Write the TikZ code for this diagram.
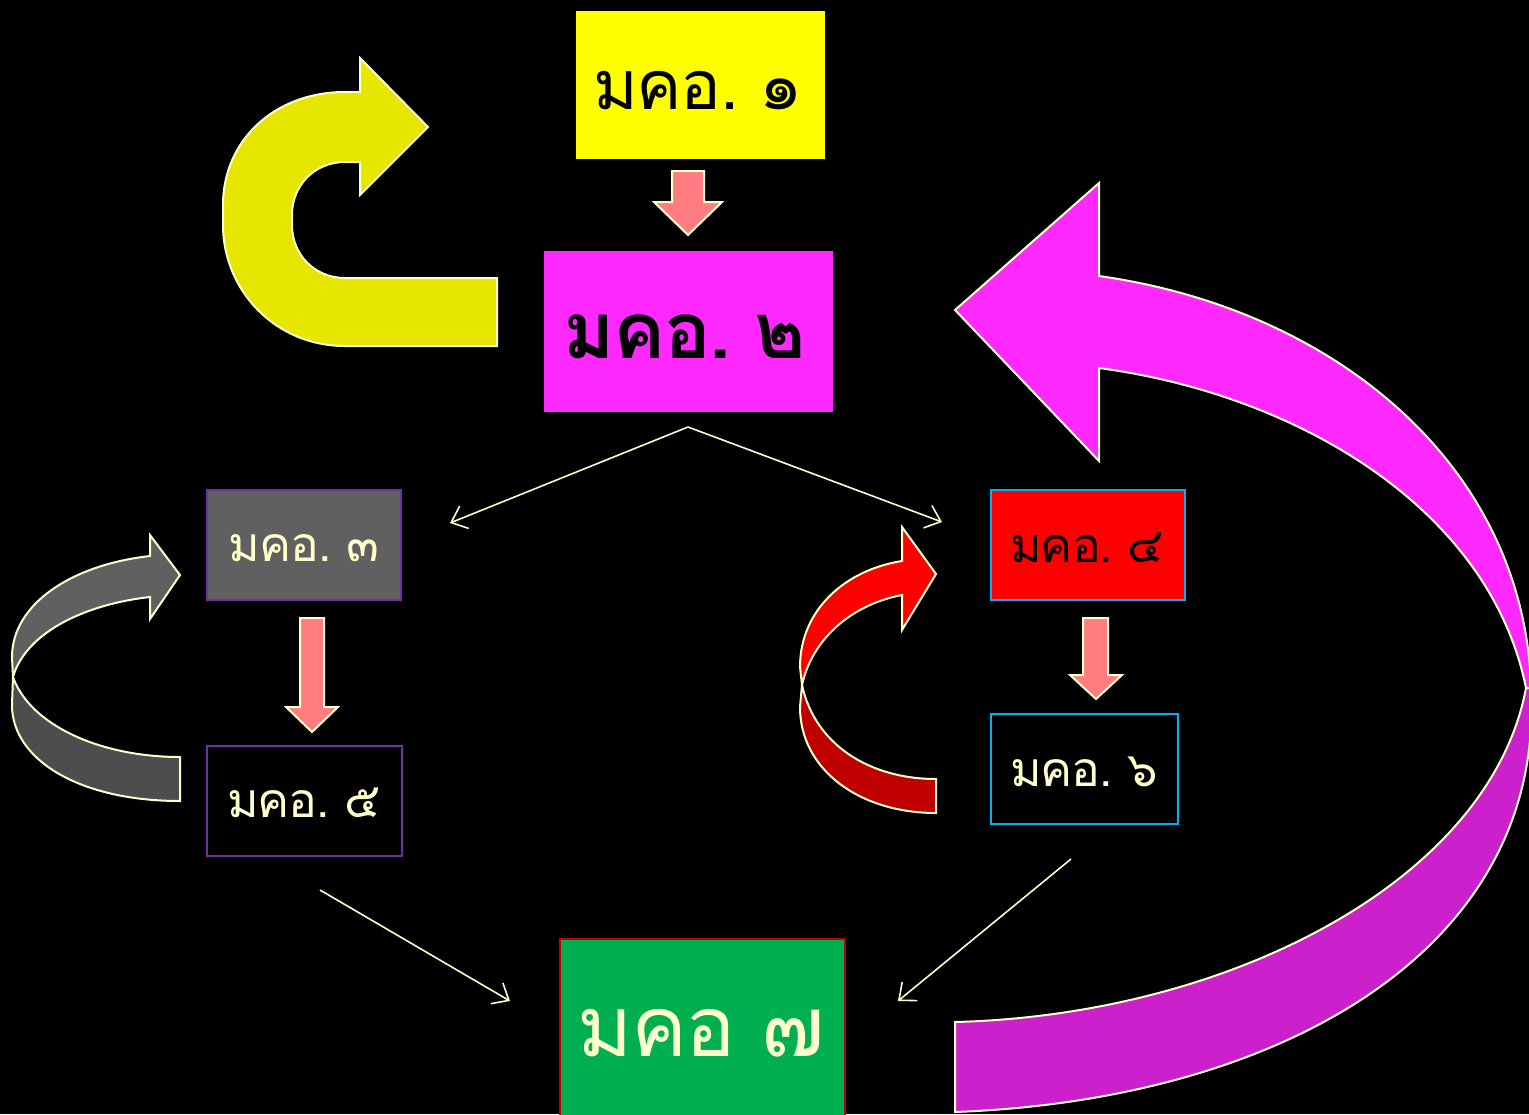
\documentclass[tikz,border=0pt]{standalone}
\usepackage{fontspec}
\newfontfamily\thaifont[Script=Thai, LetterSpace=-2]{Loma}
\usetikzlibrary{arrows.meta}
\definecolor{cream}{HTML}{FFFFCC}
\definecolor{yel}{HTML}{FFFF00}
\definecolor{yelarr}{HTML}{E6E600}
\definecolor{mag}{HTML}{FF28FF}
\definecolor{magdark}{HTML}{CC20CC}
\definecolor{grayA}{HTML}{606060}
\definecolor{grayB}{HTML}{4D4D4D}
\definecolor{purp}{HTML}{7030A0}
\definecolor{skyb}{HTML}{00B0F0}
\definecolor{redA}{HTML}{FF0000}
\definecolor{redB}{HTML}{C00000}
\definecolor{grn}{HTML}{00B050}
\definecolor{pink}{HTML}{FF7C80}
\newcommand{\gp}{\hspace{0.3em}}
\tikzset{
  box/.style={rectangle, inner sep=0pt},
  lbl/.style={inner sep=0pt},
  blockarr/.style={fill=pink, draw=cream, line width=2pt, line join=miter},
  curvarr/.style={draw=cream, line width=2pt, line join=miter},
  conn/.style={draw=cream, line width=1.6pt, -{Straight Barb[length=14pt,width=24pt,line width=1.6pt]}},
}
\begin{document}
\begin{tikzpicture}[x=1pt,y=-1pt]
\fill[black] (0,0) rectangle (1529,1114);
\useasboundingbox (0,0) rectangle (1529,1114);

% boxes
\node[box, fill=yel, minimum width=249pt, minimum height=148pt] (m1) at (700.5,85) {};
\node[lbl, text=black, font=\thaifont\fontsize{68}{70}\selectfont] (t1) at (698,91) {มคอ.\gp๑};
\node[box, fill=mag, minimum width=289pt, minimum height=161pt] (m2) at (688.5,331.5) {};
\node[lbl, text=black, font=\thaifont\bfseries\fontsize{78}{80}\selectfont] (t2) at (685,337) {มคอ.\gp๒};
\node[box, fill=grayA, draw=purp, line width=2pt, minimum width=194pt, minimum height=110pt] (m3) at (304,545) {};
\node[lbl, text=cream, font=\thaifont\fontsize{48}{52}\selectfont] (t3) at (304,548) {มคอ.\gp๓};
\node[box, fill=black, draw=purp, line width=2pt, minimum width=195pt, minimum height=110pt] (m5) at (304.5,801) {};
\node[lbl, text=cream, font=\thaifont\fontsize{48}{52}\selectfont] (t5) at (304,803) {มคอ.\gp๕};
\node[box, fill=redA, draw=skyb, line width=2pt, minimum width=194pt, minimum height=110pt] (m4) at (1088,545) {};
\node[lbl, text=black, font=\thaifont\fontsize{48}{52}\selectfont] (t4) at (1087,548) {มคอ.\gp๔};
\node[box, fill=black, draw=skyb, line width=2pt, minimum width=187pt, minimum height=110pt] (m6) at (1084.5,769) {};
\node[lbl, text=cream, font=\thaifont\fontsize{48}{52}\selectfont] (t6) at (1084,772) {มคอ.\gp๖};
\node[box, fill=grn, draw=redB, line width=2pt, minimum width=285pt, minimum height=184pt] (m7) at (702.5,1031) {};
\node[lbl, text=cream, font=\thaifont\fontsize{84}{86}\selectfont] (t7) at (701,1033) {มคอ\hspace{0.3em}๗};

% yellow U-turn arrow
\filldraw[curvarr, fill=yelarr] (497,346) -- (345,346) .. controls (275,346) and (223,290) .. (223,225) -- (223,205) .. controls (223,140) and (275,92) .. (345,92) -- (360,92) -- (360,58) -- (428,127) -- (360,195) -- (360,162) -- (345,162) .. controls (315,162) and (292,185) .. (292,215) -- (292,225) .. controls (292,255) and (315,278) .. (345,278) -- (497,278) -- cycle;

% gray curved arrow
\filldraw[curvarr, fill=grayA] (12,657) .. controls (12,605) and (70,565) .. (150,556) -- (150,535) -- (180,575) -- (150,619) -- (150,597) .. controls (80,605) and (25,635) .. (13,677) -- cycle;
\filldraw[curvarr, fill=grayB] (13,677) .. controls (30,725) and (100,757) .. (180,757) -- (180,801) .. controls (80,801) and (12,760) .. (12,705) -- cycle;

% red curved arrow
\filldraw[curvarr, fill=redA] (800,667) .. controls (800,610) and (845,570) .. (902,561) -- (902,527) -- (936,574) -- (902,630) -- (902,595) .. controls (850,605) and (812,640) .. (802,685) -- cycle;
\filldraw[curvarr, fill=redB] (802,685) .. controls (815,745) and (870,779) .. (936,779) -- (936,813) .. controls (860,813) and (800,770) .. (800,707) -- cycle;

% magenta big curved arrow
\filldraw[curvarr, fill=mag] (1099,276) -- (1099,183) -- (955,310) -- (1099,461) -- (1099,368) .. controls (1300,395) and (1490,510) .. (1526,688) -- (1531,688) .. controls (1525,470) and (1340,310) .. (1099,276) -- cycle;
\filldraw[curvarr, fill=magdark] (1526,688) .. controls (1490,880) and (1230,1015) .. (955,1022) -- (955,1112) .. controls (1280,1100) and (1545,950) .. (1531,688) -- cycle;

% pink block arrows
\filldraw[blockarr] (672,171) -- (704,171) -- (704,202) -- (722,202) -- (688,235) -- (654,202) -- (672,202) -- cycle;
\filldraw[blockarr] (300,618) -- (324,618) -- (324,707) -- (338,707) -- (312,732) -- (286,707) -- (300,707) -- cycle;
\filldraw[blockarr] (1083,618) -- (1108,618) -- (1108,675) -- (1122,675) -- (1096,699) -- (1070,675) -- (1083,675) -- cycle;

% thin connectors
\coordinate (v) at (688,427);
\coordinate (e3) at (450,523);
\coordinate (e4) at (942,522);
\coordinate (s5) at (320,890);
\coordinate (e7a) at (510,1001);
\coordinate (s6) at (1071,859);
\coordinate (e7b) at (898,1001);
\draw[conn] (v) -- (e3);
\draw[conn] (v) -- (e4);
\draw[conn] (s5) -- (e7a);
\draw[conn] (s6) -- (e7b);
\end{tikzpicture}
\end{document}
